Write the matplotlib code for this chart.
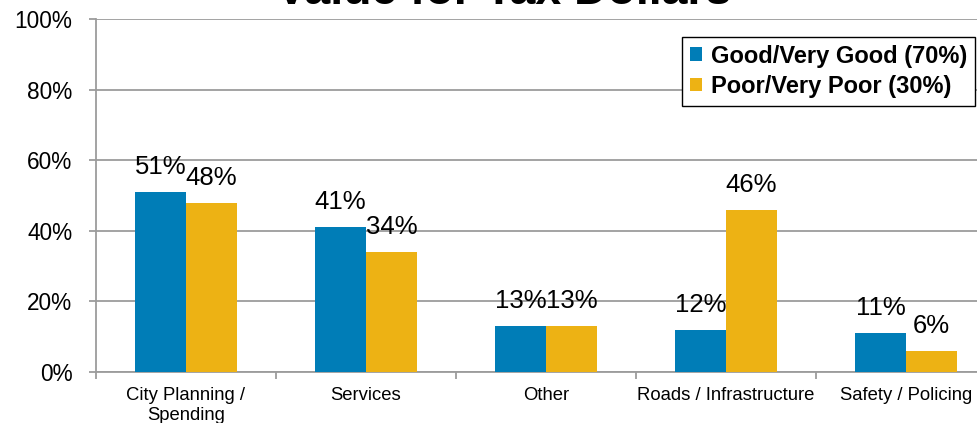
import numpy as np
import matplotlib
matplotlib.use("Agg")
import matplotlib.pyplot as plt

plt.rcParams['font.family'] = ['Liberation Sans', 'DejaVu Sans']

# data
categories = ["City Planning /\nSpending", "Services", "Other",
              "Roads / Infrastructure", "Safety / Policing"]
good = [51, 41, 13, 12, 11]
poor = [48, 34, 13, 46, 6]
series_names = ["Good/Very Good (70%)", "Poor/Very Poor (30%)"]
title = "Value for Tax Dollars"

blue = '#007DB7'
gold = '#EDB214'
grid_c = '#9c9c9c'

W, H = 978, 423
fig = plt.figure(figsize=(W / 100, H / 100), dpi=100)
ax = fig.add_axes([96 / W, (H - 372) / H, 900 / W, 353 / H])

x = np.arange(len(categories))
bw = 0.283
b1 = ax.bar(x - bw / 2, good, bw, color=blue, label=series_names[0], zorder=3)
b2 = ax.bar(x + bw / 2, poor, bw, color=gold, label=series_names[1], zorder=3)

# value labels above each bar
for bars, vals in ((b1, good), (b2, poor)):
    for r, v in zip(bars, vals):
        ax.annotate(f"{v}%", (r.get_x() + r.get_width() / 2, v),
                    xytext=(0, 18), textcoords='offset pixels',
                    ha='center', va='baseline', fontsize=18.5, color='black',
                    zorder=4)

ax.set_xlim(-0.5, len(categories) - 0.5)
ax.set_ylim(0, 100)
ax.set_yticks(np.arange(0, 101, 20))
ax.set_yticklabels([f"{t}%" for t in range(0, 101, 20)])
ax.yaxis.grid(True, color=grid_c, lw=1.3, zorder=0)
ax.set_axisbelow(True)

ax.set_xticks(x)
ax.set_xticklabels(categories)
ax.set_xticks(np.arange(-0.5, len(categories), 1), minor=True)
ax.tick_params(axis='x', which='major', length=0, pad=11, labelsize=13.3)
ax.tick_params(axis='x', which='minor', length=5, width=1.3, color=grid_c,
               direction='out')
ax.tick_params(axis='y', length=5, width=1.3, color=grid_c, pad=12,
               labelsize=16.3)

for s in ('top', 'right'):
    ax.spines[s].set_visible(False)
for s in ('left', 'bottom'):
    ax.spines[s].set_color(grid_c)
    ax.spines[s].set_linewidth(1.3)

leg = ax.legend(loc='upper right', bbox_to_anchor=(975 / W, 1 - 37 / H),
                bbox_transform=fig.transFigure, borderaxespad=0,
                prop={'weight': 'bold', 'size': 17}, handlelength=0.5,
                handleheight=0.5, handletextpad=0.4, labelspacing=0.32,
                borderpad=0.32, fancybox=False, framealpha=1)
leg.get_frame().set_edgecolor('black')
leg.get_frame().set_linewidth(1.0)

fig.text(504 / W, 1 - 4 / H, title, ha='center', va='baseline',
         fontsize=33.4, fontweight='bold')

fig.savefig("out.png", dpi=100)
